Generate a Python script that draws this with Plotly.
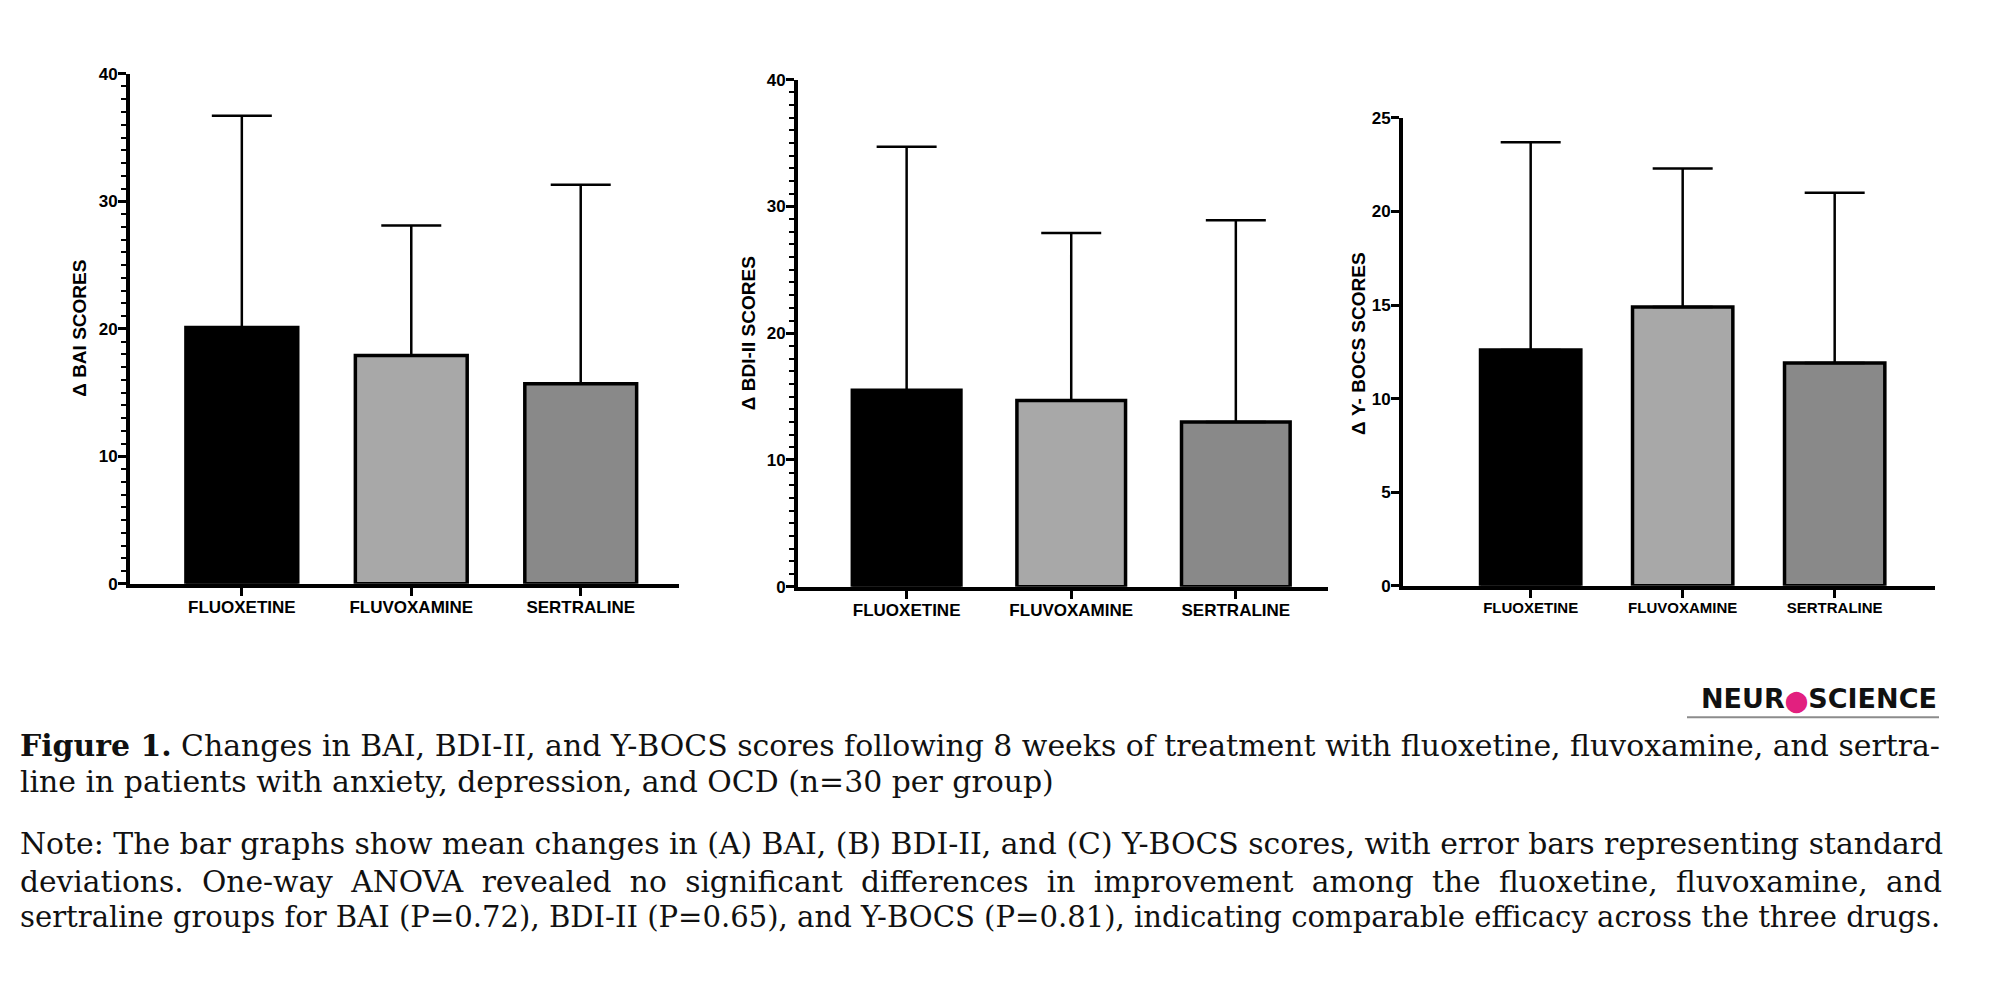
import plotly.graph_objects as go
from plotly.subplots import make_subplots

# ---- data ----
drugs = ["FLUOXETINE", "FLUVOXAMINE", "SERTRALINE"]
bar_colors = ["#000000", "#a8a8a8", "#898989"]

bai_mean = [20.1, 17.9, 15.7]
bai_sd = [16.6, 10.2, 15.6]

bdi_mean = [15.5, 14.7, 13.0]
bdi_sd = [19.2, 13.2, 15.9]

ybocs_mean = [12.6, 14.9, 11.9]
ybocs_sd = [11.1, 7.4, 9.1]

panel_titles = ["\u0394 BAI SCORES", "\u0394 BDI-II SCORES", "\u0394 Y- BOCS SCORES"]
panel_ranges = [[0, 40], [0, 40], [0, 25]]
panel_dticks = [10, 10, 5]

caption_lines = [
    "<b>Figure 1.</b> Changes in BAI, BDI-II, and Y-BOCS scores following 8 weeks of treatment with fluoxetine, fluvoxamine, and sertra-",
    "line in patients with anxiety, depression, and OCD (n=30 per group)",
    "Note: The bar graphs show mean changes in (A) BAI, (B) BDI-II, and (C) Y-BOCS scores, with error bars representing standard",
    "deviations. One-way ANOVA revealed no significant differences in improvement among the fluoxetine, fluvoxamine, and",
    "sertraline groups for BAI (P=0.72), BDI-II (P=0.65), and Y-BOCS (P=0.81), indicating comparable efficacy across the three drugs.",
]

W, H = 2000, 998
SANS = "Liberation Sans, Arial, sans-serif"
SERIF = "DejaVu Serif, serif"

# panel boxes in pixels: (left, right, zero line y, top y) and x ranges
boxes = [(130, 679, 586, 66), (798, 1328, 589, 72), (1403, 1935, 588, 111)]
x_ranges = [[-0.66, 2.58], [-0.66, 2.56], [-0.84, 2.66]]


def px_x(x):
    return x / W


def px_y(y):
    return 1 - y / H


fig = make_subplots(rows=1, cols=3)

panels = [(bai_mean, bai_sd), (bdi_mean, bdi_sd), (ybocs_mean, ybocs_sd)]
for i, (means, sds) in enumerate(panels, 1):
    fig.add_trace(
        go.Bar(
            x=drugs,
            y=means,
            width=0.66,
            marker=dict(color=bar_colors, line=dict(color="black", width=3.5)),
            error_y=dict(
                type="data",
                symmetric=False,
                array=sds,
                arrayminus=[0, 0, 0],
                color="black",
                thickness=2.5,
                width=30,
            ),
            showlegend=False,
        ),
        row=1, col=i,
    )

for i, (left, right, zero_y, top_y) in enumerate(boxes):
    xa = "xaxis" if i == 0 else f"xaxis{i + 1}"
    ya = "yaxis" if i == 0 else f"yaxis{i + 1}"
    small = i == 2
    fig.layout[xa].update(
        domain=[px_x(left), px_x(right)],
        range=x_ranges[i],
        showline=True, linecolor="black", linewidth=4,
        ticks="outside", ticklen=8, tickwidth=3, tickcolor="black",
        ticklabelstandoff=-3,
        showgrid=False, zeroline=False,
        tickfont=dict(family=SANS, size=15 if small else 17, color="black", weight="bold"),
    )
    yaxis = dict(
        domain=[px_y(zero_y), px_y(top_y)],
        range=panel_ranges[i],
        dtick=panel_dticks[i],
        showline=True, linecolor="black", linewidth=4,
        ticks="outside", ticklen=8, tickwidth=3, tickcolor="black",
        ticklabelstandoff=-3,
        showgrid=False, zeroline=False,
        tickfont=dict(family=SANS, size=17, color="black", weight="bold"),
    )
    if not small:
        yaxis["minor"] = dict(dtick=1, ticks="outside", ticklen=5, tickwidth=2,
                              tickcolor="black", showgrid=False)
    fig.layout[ya].update(**yaxis)

    # y axis title
    fig.add_annotation(
        x=px_x(left - (44 if small else 50)), y=px_y((zero_y + top_y) / 2 - (8 if small else 0)),
        xref="paper", yref="paper", text=panel_titles[i], textangle=-90,
        showarrow=False, xanchor="center", yanchor="middle",
        font=dict(family=SANS, size=19, color="black", weight="bold"),
    )

# caption (justified lines get a little extra word spacing)
caption_y = [751, 788, 851, 889, 926]
caption_size = [29.9, 29.9, 29.85, 29.7, 29.1]
extra_gap = ["", "", "", "\u2009\u200a", ""]
for line, y, size, gap in zip(caption_lines, caption_y, caption_size, extra_gap):
    if gap:
        line = line.replace(" ", " " + gap)
    fig.add_annotation(
        x=px_x(18), y=px_y(y), xref="paper", yref="paper",
        text=line, showarrow=False, xanchor="left", yanchor="middle",
        font=dict(family=SERIF, size=size, color="#111111"),
    )

# journal logo
fig.add_annotation(
    x=px_x(1939), y=px_y(703), xref="paper", yref="paper",
    text="NEUR<span style='color:#e2207f;font-size:21px'>\u2b24</span>SCIENCE",
    showarrow=False, xanchor="right", yanchor="middle",
    font=dict(family="DejaVu Sans, sans-serif", size=27, color="#111111", weight="bold"),
)
fig.add_shape(
    type="line", xref="paper", yref="paper",
    x0=px_x(1687), x1=px_x(1939), y0=px_y(722), y1=px_y(722),
    line=dict(color="#8c8c8c", width=2),
)

fig.update_layout(
    width=W, height=H,
    margin=dict(l=0, r=0, t=0, b=0),
    paper_bgcolor="white", plot_bgcolor="white",
)

fig.write_html("out.html", config={"displayModeBar": False},
               post_script="document.body.style.margin='0';")
